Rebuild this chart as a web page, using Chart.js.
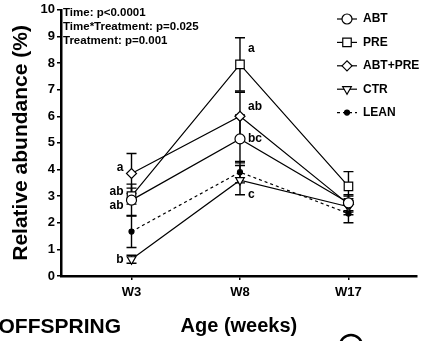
<!DOCTYPE html>
<html>
<head>
<meta charset="utf-8">
<script src="https://cdn.jsdelivr.net/npm/chart.js@4/dist/chart.umd.min.js"></script>
<style>
  html, body { margin: 0; padding: 0; background: #fff; }
  #wrap { width: 424px; height: 341px; position: relative; }
</style>
</head>
<body>
<div id="wrap"><canvas id="chart"></canvas></div>
<script>
var FONT = "'Liberation Sans Narrow', 'Liberation Sans', Arial, sans-serif";

var weeks = ["W3", "W8", "W17"];

// group means (%)
var abt    = [2.85, 5.15, 2.75];
var pre    = [3.0,  7.95, 3.37];
var abtPre = [3.85, 6.0,  2.7];
var ctr    = [0.63, 3.6,  2.6];
var lean   = [1.67, 3.9,  2.35];

// SEM
var abtErr    = [0.6,  0.9,  0.3];
var preErr    = [0.3,  1.0,  0.55];
var abtPreErr = [0.75, 0.9,  0.3];
var ctrErr    = [0.15, 0.55, 0.3];
var leanErr   = [0.6,  0.4,  0.35];

var yTicks = [0, 1, 2, 3, 4, 5, 6, 7, 8, 9, 10];

var statsLines = ["Time: p<0.0001", "Time*Treatment: p=0.025", "Treatment: p=0.001"];

// significance letters: text, week index, y value, side
var letters = [
  ["a", 0, 4.07, -1], ["ab", 0, 3.18, -1], ["ab", 0, 2.63, -1], ["b", 0, 0.63, -1],
  ["a", 1, 8.55, 1], ["ab", 1, 6.37, 1], ["bc", 1, 5.15, 1], ["c", 1, 3.07, 1]
];

function pts(arr) {
  return arr.map(function (v, i) { return { x: i, y: v }; });
}

var series = [
  { label: "ABT",     data: abt,    err: abtErr,    style: "circle",  rot: 0 },
  { label: "PRE",     data: pre,    err: preErr,    style: "rect",    rot: 0 },
  { label: "ABT+PRE", data: abtPre, err: abtPreErr, style: "rectRot", rot: 0 },
  { label: "CTR",     data: ctr,    err: ctrErr,    style: "triangle", rot: 180 },
  { label: "LEAN",    data: lean,   err: leanErr,   style: "circle",  rot: 0, dashed: true }
];

var datasets = series.map(function (s) {
  var small = s.label === "LEAN";
  return {
    label: s.label,
    data: pts(s.data),
    showLine: true,
    borderColor: "#000",
    borderWidth: 1.2,
    borderDash: s.dashed ? [3, 3] : [],
    pointStyle: s.style,
    pointRotation: s.rot,
    pointRadius: small ? 2.5 : (s.style === "rect" ? 6 : 5),
    pointBackgroundColor: small ? "#000" : "#fff",
    pointBorderColor: "#000",
    pointBorderWidth: 1.2,
    err: s.err
  };
});

var errorBars = {
  id: "errorBars",
  beforeDatasetsDraw: function (chart) {
    var ctx = chart.ctx, xs = chart.scales.x, ys = chart.scales.y;
    ctx.save();
    ctx.strokeStyle = "#000";
    ctx.lineWidth = 1.4;
    chart.data.datasets.forEach(function (ds) {
      ds.data.forEach(function (p, i) {
        var e = ds.err[i];
        var x = xs.getPixelForValue(p.x);
        var top = ys.getPixelForValue(p.y + e);
        var bot = ys.getPixelForValue(p.y - e);
        ctx.beginPath();
        ctx.moveTo(x, top); ctx.lineTo(x, bot);
        ctx.moveTo(x - 5, top); ctx.lineTo(x + 5, top);
        ctx.moveTo(x - 5, bot); ctx.lineTo(x + 5, bot);
        ctx.stroke();
      });
    });
    ctx.restore();
  }
};

var extras = {
  id: "extras",
  afterDraw: function (chart) {
    var ctx = chart.ctx, xs = chart.scales.x, ys = chart.scales.y;
    var area = chart.chartArea;
    ctx.save();
    ctx.fillStyle = "#000";

    // stats text
    ctx.font = "bold 11.5px " + FONT;
    ctx.textAlign = "left";
    ctx.textBaseline = "middle";
    statsLines.forEach(function (t, i) {
      ctx.fillText(t, area.left + 2, 13 + i * 14);
    });

    // letters
    ctx.font = "bold 12px " + FONT;
    letters.forEach(function (l) {
      var x = xs.getPixelForValue(l[1]);
      var y = ys.getPixelForValue(l[2]);
      ctx.textAlign = l[3] < 0 ? "right" : "left";
      ctx.fillText(l[0], x + l[3] * 8, y);
    });

    // legend
    ctx.font = "bold 12px " + FONT;
    ctx.textAlign = "left";
    chart.data.datasets.forEach(function (ds, i) {
      var y = 19 + i * 23.4;
      var cx = 347;
      ctx.strokeStyle = "#000";
      ctx.lineWidth = 1.2;
      ctx.setLineDash(ds.borderDash);
      ctx.beginPath();
      ctx.moveTo(cx - 10, y); ctx.lineTo(cx + 10, y);
      ctx.stroke();
      ctx.setLineDash([]);
      ctx.fillStyle = ds.pointBackgroundColor;
      Chart.helpers.drawPoint(ctx, {
        pointStyle: ds.pointStyle,
        rotation: ds.pointRotation,
        radius: ds.pointRadius,
        borderWidth: 1.2
      }, cx, y);
      ctx.fillStyle = "#000";
      ctx.fillText(ds.label, 363, y);
    });

    // panel caption
    ctx.font = "bold 21px " + FONT;
    ctx.textAlign = "right";
    ctx.fillText("OFFSPRING", 121, 327);

    // next panel letter, clipped at the bottom edge
    ctx.lineWidth = 2.5;
    ctx.beginPath();
    ctx.arc(351, 346, 11, 0, Math.PI * 2);
    ctx.stroke();
    ctx.restore();
  }
};

new Chart(document.getElementById("chart"), {
  type: "scatter",
  data: { datasets: datasets },
  plugins: [errorBars, extras],
  options: {
    responsive: true,
    maintainAspectRatio: false,
    animation: false,
    layout: { padding: { top: 6, right: 0, left: 0, bottom: 0 } },
    plugins: { legend: { display: false }, tooltip: { enabled: false } },
    scales: {
      x: {
        type: "linear",
        min: -0.65,
        max: 2.63,
        afterBuildTicks: function (s) {
          s.ticks = weeks.map(function (w, i) { return { value: i }; });
        },
        afterFit: function (s) { s.height = 65; },
        ticks: {
          color: "#000",
          font: { family: FONT, weight: "bold", size: 13 },
          padding: 5,
          callback: function (v) { return weeks[v]; }
        },
        grid: { drawOnChartArea: false, drawTicks: true, tickLength: 4, color: "#000", lineWidth: 1.5 },
        border: { color: "#000", width: 2.5 },
        title: {
          display: true,
          text: "Age (weeks)",
          color: "#000",
          font: { family: FONT, weight: "bold", size: 20 },
          padding: { top: 0, bottom: 3 }
        }
      },
      y: {
        min: 0,
        max: 10,
        afterBuildTicks: function (s) {
          s.ticks = yTicks.map(function (v) { return { value: v }; });
        },
        afterFit: function (s) { s.width = 61; },
        ticks: {
          color: "#000",
          font: { family: FONT, weight: "bold", size: 13 },
          padding: 2
        },
        grid: { drawOnChartArea: false, drawTicks: true, tickLength: 4, color: "#000", lineWidth: 1.5 },
        border: { color: "#000", width: 2.5 },
        title: {
          display: true,
          text: "Relative abundance (%)",
          color: "#000",
          font: { family: FONT, weight: "bold", size: 21 },
          padding: { top: 9, bottom: 0 }
        }
      }
    }
  }
});
</script>
</body>
</html>
